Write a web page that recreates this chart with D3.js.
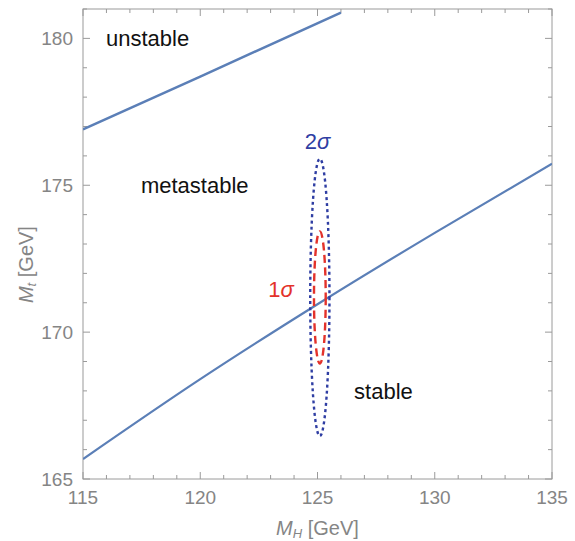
<!DOCTYPE html>
<html>
<head>
<meta charset="utf-8">
<script src="https://cdn.jsdelivr.net/npm/d3@7"></script>
<style>
  html, body { margin: 0; padding: 0; background: #fff; }
  svg { display: block; font-family: "Liberation Sans", Arial, sans-serif; }
</style>
</head>
<body>
<svg id="chart" width="575" height="541"></svg>
<script>
// Higgs mass (GeV) vs top mass (GeV) phase diagram of the electroweak vacuum

// Boundary between unstable and metastable regions
const unstableMH = [115, 120, 126];
const unstableMt = [176.9, 178.7, 180.88];

// Boundary between metastable and stable regions
const stableMH = [115, 120, 125, 130, 135];
const stableMt = [165.68, 168.4, 170.95, 173.38, 175.73];

// Measured central values and confidence ellipse half-widths
const centerMH = 125.1;
const centerMt = 171.18;
const sigmaLabels = ["1σ", "2σ"];
const halfMH = [0.25, 0.41];
const halfMt = [2.25, 4.72];

// Axis ticks
const xTicks = [115, 120, 125, 130, 135];
const yTicks = [165, 170, 175, 180];
const xMinor = d3.range(115, 136, 1);
const yMinor = d3.range(165, 182, 1);

// Region labels
const regionNames = ["unstable", "metastable", "stable"];
const regionMH = [115.98, 117.47, 126.56];
const regionMt = [179.74, 174.74, 167.72];

const svg = d3.select("#chart");
const margin = { left: 83, right: 23, top: 9, bottom: 62 };
const W = 575, H = 541;

const x = d3.scaleLinear().domain([115, 135]).range([margin.left, W - margin.right]);
const y = d3.scaleLinear().domain([165, 181]).range([H - margin.bottom, margin.top]);

const frameColor = "#9a9a9a";
const tickText = "#858585";

// Frame
svg.append("rect")
  .attr("x", x(115)).attr("y", y(181))
  .attr("width", x(135) - x(115)).attr("height", y(165) - y(181))
  .attr("fill", "none").attr("stroke", frameColor).attr("stroke-width", 1);

// Ticks on all four sides
const tickG = svg.append("g").attr("stroke", frameColor).attr("stroke-width", 1);
xMinor.forEach(v => {
  const major = xTicks.includes(v);
  const len = major ? 7 : 4;
  tickG.append("line").attr("x1", x(v)).attr("x2", x(v))
    .attr("y1", y(165)).attr("y2", y(165) - len);
  tickG.append("line").attr("x1", x(v)).attr("x2", x(v))
    .attr("y1", y(181)).attr("y2", y(181) + len);
});
yMinor.forEach(v => {
  const major = yTicks.includes(v);
  const len = major ? 7 : 4;
  tickG.append("line").attr("y1", y(v)).attr("y2", y(v))
    .attr("x1", x(115)).attr("x2", x(115) + len);
  tickG.append("line").attr("y1", y(v)).attr("y2", y(v))
    .attr("x1", x(135)).attr("x2", x(135) - len);
});

// Tick labels
svg.append("g").selectAll("text").data(xTicks).join("text")
  .attr("x", d => x(d)).attr("y", y(165) + 25)
  .attr("text-anchor", "middle").attr("fill", tickText)
  .attr("font-size", 19).text(d => d);
svg.append("g").selectAll("text").data(yTicks).join("text")
  .attr("x", x(115) - 10).attr("y", d => y(d) + 7)
  .attr("text-anchor", "end").attr("fill", tickText)
  .attr("font-size", 19).text(d => d);

// Axis titles
const xt = svg.append("text")
  .attr("x", x(125)).attr("y", 535)
  .attr("text-anchor", "middle").attr("fill", tickText).attr("font-size", 20);
xt.append("tspan").attr("font-style", "italic").text("M");
xt.append("tspan").attr("font-style", "italic").attr("font-size", 13).attr("dy", 3).text("H");
xt.append("tspan").attr("dy", -3).text(" [GeV]");

const yt = svg.append("text")
  .attr("transform", `translate(33,${y(172.3)}) rotate(-90)`)
  .attr("text-anchor", "middle").attr("fill", tickText).attr("font-size", 20);
yt.append("tspan").attr("font-style", "italic").text("M");
yt.append("tspan").attr("font-style", "italic").attr("font-size", 13).attr("dy", 3).text("t");
yt.append("tspan").attr("dy", -3).text(" [GeV]");

// Plot area clip
svg.append("clipPath").attr("id", "plotClip").append("rect")
  .attr("x", x(115)).attr("y", y(181))
  .attr("width", x(135) - x(115)).attr("height", y(165) - y(181));
const plot = svg.append("g").attr("clip-path", "url(#plotClip)");

const line = d3.line().x(d => x(d[0])).y(d => y(d[1])).curve(d3.curveMonotoneX);
const lineBlue = "#5b7fb7";

plot.append("path")
  .datum(unstableMH.map((v, i) => [v, unstableMt[i]]))
  .attr("d", line).attr("fill", "none")
  .attr("stroke", lineBlue).attr("stroke-width", 2.5);

plot.append("path")
  .datum(stableMH.map((v, i) => [v, stableMt[i]]))
  .attr("d", line).attr("fill", "none")
  .attr("stroke", lineBlue).attr("stroke-width", 2.2);

// Confidence ellipses
const ellColors = ["#e3322b", "#2f3ea3"];
const ellDash = ["8,4.5", "3,3.2"];
[1, 0].forEach(i => {
  plot.append("ellipse")
    .attr("cx", x(centerMH)).attr("cy", y(centerMt))
    .attr("rx", x(centerMH + halfMH[i]) - x(centerMH))
    .attr("ry", y(centerMt) - y(centerMt + halfMt[i]))
    .attr("fill", "none").attr("stroke", ellColors[i])
    .attr("stroke-width", 2.4).attr("stroke-dasharray", ellDash[i]);
});

// Ellipse labels
const sigPos = [[123.44, 171.2], [125.0, 176.23]];
sigmaLabels.forEach((s, i) => {
  const t = svg.append("text")
    .attr("x", x(sigPos[i][0])).attr("y", y(sigPos[i][1]))
    .attr("text-anchor", "middle").attr("fill", ellColors[i]).attr("font-size", 22);
  t.append("tspan").text(s[0]);
  t.append("tspan").attr("font-style", "italic").text(s[1]);
});

// Region labels
regionNames.forEach((n, i) => {
  svg.append("text")
    .attr("x", x(regionMH[i])).attr("y", y(regionMt[i]))
    .attr("fill", "#111").attr("font-size", 22).text(n);
});
</script>
</body>
</html>
